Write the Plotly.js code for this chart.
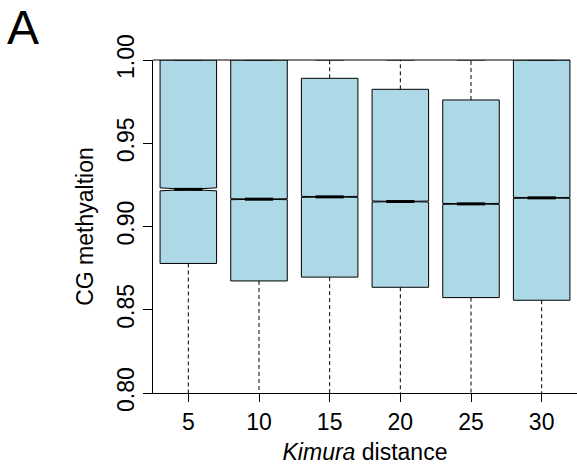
<!DOCTYPE html>
<html><head><meta charset="utf-8">
<script src="https://cdn.plot.ly/plotly-3.0.1.min.js"></script>
<style>html,body{margin:0;padding:0;background:#fff}</style>
</head><body><div id="chart" style="width:577px;height:465px"></div>
<script>
// Data
const categories = [5, 10, 15, 20, 25, 30];
const q1 = [0.8778, 0.8673, 0.8696, 0.8635, 0.8573, 0.8557];
const medians = [0.9223, 0.9164, 0.9178, 0.9150, 0.9136, 0.9172];
const q3 = [1.0, 1.0, 0.9890, 0.9824, 0.9760, 1.0];
const lowerWhisker = [0.70, 0.68, 0.69, 0.67, 0.66, 0.65];
const upperWhisker = [1.0, 1.0, 1.0, 1.0, 1.0, 1.0];
const notchSpan = [0.0009, 0.0003, 0.0003, 0.0003, 0.0003, 0.0003];
const yTicks = [0.80, 0.85, 0.90, 0.95, 1.00];

const FONT = 'Liberation Sans, Arial, Helvetica, sans-serif';
const FS = 23;
const pos = categories.map((c, i) => i + 1);
const boxW = 0.8, halfNotch = 0.2;

const wx = [], wy = [], cx = [], cy = [], mx = [], my = [];
pos.forEach((p, i) => {
  wx.push(p, p, null, p, p, null);
  wy.push(q1[i], lowerWhisker[i], null, q3[i], upperWhisker[i], null);
  cx.push(p - halfNotch, p + halfNotch, null, p - halfNotch, p + halfNotch, null);
  cy.push(lowerWhisker[i], lowerWhisker[i], null, upperWhisker[i], upperWhisker[i], null);
  mx.push(p - halfNotch, p + halfNotch, null);
  my.push(medians[i], medians[i], null);
});

const traces = [
  {type: 'scatter', mode: 'lines', x: wx, y: wy, hoverinfo: 'skip',
   line: {color: '#000', width: 1, dash: '4px,3px'}},
  {type: 'box', x: pos, q1: q1, median: medians, q3: q3,
   lowerfence: q1, upperfence: q3, notched: true, notchspan: notchSpan,
   notchwidth: 0.5, width: boxW, whiskerwidth: 0, boxpoints: false,
   fillcolor: '#ADD8E6', line: {color: '#000', width: 1}},
  {type: 'scatter', mode: 'lines', x: mx, y: my, hoverinfo: 'skip',
   line: {color: '#000', width: 3}},
  {type: 'scatter', mode: 'lines', x: cx, y: cy, hoverinfo: 'skip',
   line: {color: '#000', width: 1}}
];

const layout = {
  width: 577, height: 465,
  margin: {l: 153, r: 0, t: 60, b: 72, pad: 0},
  paper_bgcolor: '#fff', plot_bgcolor: '#fff',
  showlegend: false,
  font: {family: FONT, size: FS, color: '#000'},
  xaxis: {
    range: [0.5, 6.5], tickvals: pos, ticktext: categories.map(String),
    ticks: 'outside', ticklen: 8, tickwidth: 1, tickcolor: '#000',
    showline: true, linecolor: '#000', linewidth: 1,
    showgrid: false, zeroline: false, automargin: false,
    tickfont: {family: FONT, size: FS, color: '#000'},
    title: {text: '<i>Kimura</i> distance', font: {family: FONT, size: FS, color: '#000'}, standoff: 16}
  },
  yaxis: {
    range: [0.8, 1.0], tickvals: yTicks, tickformat: '.2f', tickangle: -90,
    ticks: 'outside', ticklen: 9, tickwidth: 1, tickcolor: '#000',
    showline: true, linecolor: '#000', linewidth: 1,
    showgrid: false, zeroline: false, automargin: false,
    tickfont: {family: FONT, size: FS, color: '#000'},
    title: {text: 'CG methyaltion', font: {family: FONT, size: FS, color: '#000'}, standoff: 12}
  },
  shapes: [
    {type: 'line', xref: 'x', yref: 'paper', x0: 0.5, x1: pos[pos.length - 1] + boxW / 2,
     y0: 1, y1: 1, line: {color: '#000', width: 1}}
  ],
  annotations: [
    {text: 'A', xref: 'paper', yref: 'paper', x: -147 / 424, y: 1 + 60 / 333,
     xanchor: 'left', yanchor: 'top', showarrow: false, borderpad: 0,
     font: {family: FONT, size: 48, color: '#000'}}
  ]
};

Plotly.newPlot('chart', traces, layout, {displayModeBar: false, staticPlot: true});
</script></body></html>
